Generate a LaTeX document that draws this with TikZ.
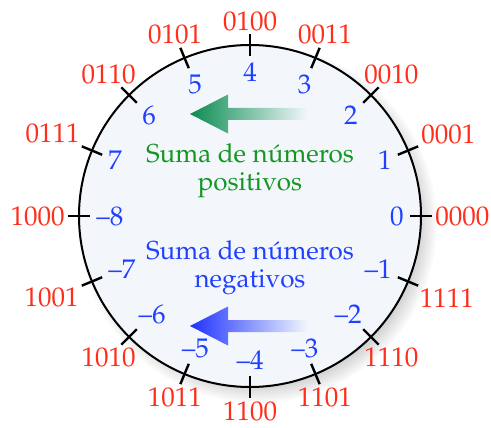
\documentclass[tikz,border=0pt]{standalone}
\usepackage[T1]{fontenc}
\usepackage{mathpazo}
\usetikzlibrary{shadows}

\definecolor{binred}{RGB}{255,45,25}
\definecolor{numblue}{RGB}{32,64,255}
\definecolor{sumgreen}{RGB}{20,150,35}
\definecolor{arrgreen}{RGB}{10,140,80}
\definecolor{arrblue}{RGB}{30,50,255}
\definecolor{dialfill}{RGB}{243,247,252}

\tikzset{
    inlab/.style={text=numblue, inner sep=1.5pt, font=\fontsize{13.5}{15}\selectfont},
    outlab/.style={text=binred, inner sep=1pt, font=\fontsize{13.5}{15}\selectfont},
    tick/.style={line width=1.2pt},
    sumtext/.style={align=center, font=\fontsize{13}{14}\selectfont}
}

\begin{document}
\begin{tikzpicture}[x=0.5pt,y=0.5pt]
    \useasboundingbox (-250,-211) rectangle (241,216);
    \coordinate (O) at (0,0);

    % dial with shadow
        \draw[line width=1pt, fill=dialfill,
              circular drop shadow={shadow xshift=3.5pt, shadow yshift=-3.5pt, shadow scale=1.05, opacity=.5}]
              (O) circle (171);

    % ticks and labels
    \foreach \i/\v/\b [evaluate=\i as \a using 22.5*\i,
                       evaluate=\i as \ab using 22.5*\i+180] in
        {0/0/0000, 1/1/0001, 2/2/0010, 3/3/0011, 4/4/0100, 5/5/0101, 6/6/0110, 7/7/0111,
         8/--8/1000, 9/--7/1001, 10/--6/1010, 11/--5/1011, 12/--4/1100, 13/--3/1101,
         14/--2/1110, 15/--1/1111}
    {
        \draw[tick] (\a:160) -- (\a:182);
        \node[inlab, anchor=\a] (in\i) at (\a:157) {\v};
        \node[outlab, anchor=\ab] (out\i) at (\a:183) {\b};
    }

    % arrows
    \shade[left color=arrgreen, right color=dialfill]
        (-60,102) -- (-22,121.5) -- (-22,108) -- (58,108) -- (58,96) -- (-22,96) -- (-22,82.5) -- cycle;
    \shade[left color=arrblue, right color=dialfill]
        (-60,-110) -- (-22,-90.5) -- (-22,-104) -- (58,-104) -- (58,-116) -- (-22,-116) -- (-22,-129.5) -- cycle;

    % texts
    \node[sumtext, text=sumgreen] (pos) at (0,45) {Suma de n\'umeros\\positivos};
    \node[sumtext, text=numblue] (neg) at (0,-52) {Suma de n\'umeros\\negativos};

\end{tikzpicture}
\end{document}
